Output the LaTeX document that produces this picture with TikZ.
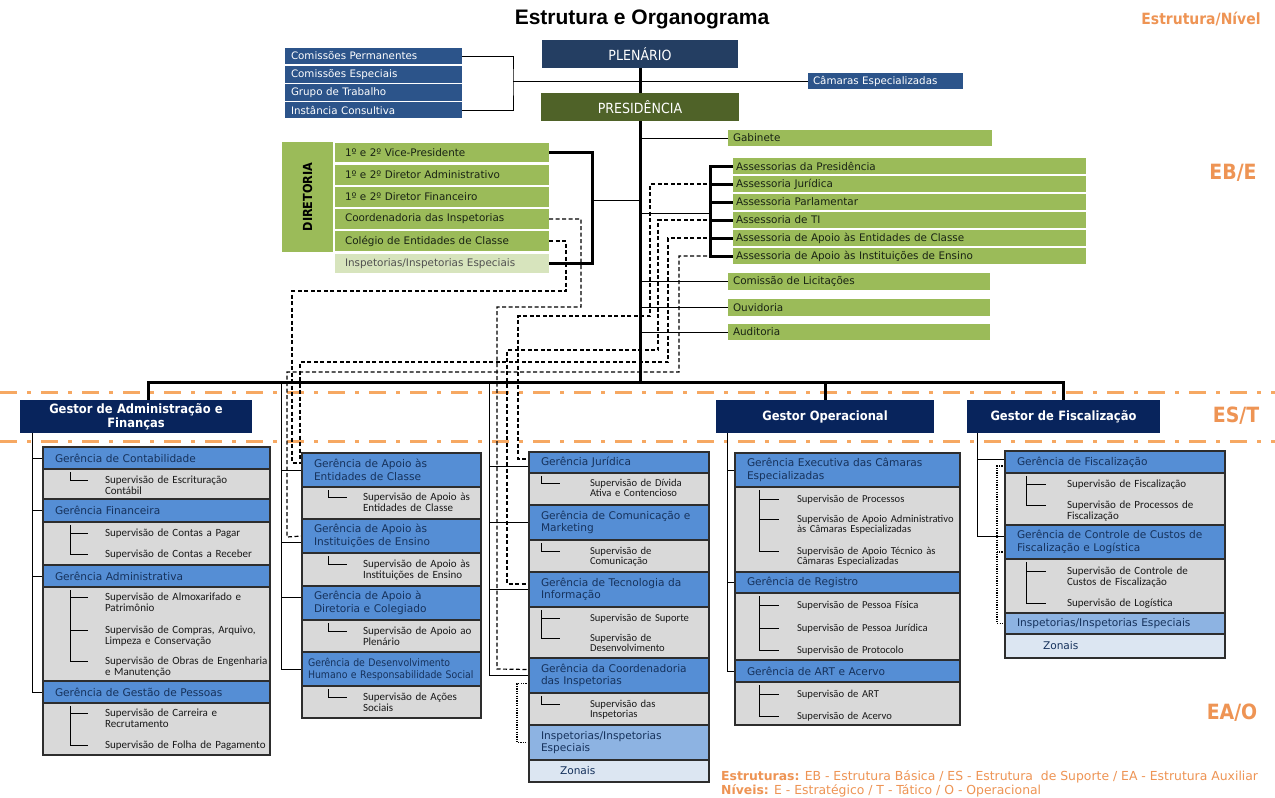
\documentclass[tikz,border=0pt]{standalone}
\usepackage{fontspec}
\setmainfont{DejaVu Sans}
\newfontfamily\cond[FakeStretch=0.9]{DejaVu Sans}
\newfontfamily\subf{Carlito}
\newfontfamily\ttlf{Liberation Sans}
\pgfdeclarelayer{bg}
\pgfsetlayers{bg,main}

\definecolor{plenc}{RGB}{36,62,98}
\definecolor{presc}{RGB}{79,98,40}
\definecolor{stackc}{RGB}{44,84,138}
\definecolor{grnc}{RGB}{155,187,89}
\definecolor{grnlc}{RGB}{215,228,189}
\definecolor{grnltxt}{RGB}{80,80,80}
\definecolor{gestc}{RGB}{8,36,92}
\definecolor{hdrc}{RGB}{85,142,213}
\definecolor{hdrlc}{RGB}{141,179,226}
\definecolor{zonc}{RGB}{220,230,242}
\definecolor{secc}{RGB}{217,217,217}
\definecolor{bordc}{RGB}{45,45,45}
\definecolor{hdrtxt}{RGB}{22,50,92}
\definecolor{subtxt}{RGB}{25,25,25}
\definecolor{grntxt}{RGB}{25,35,20}
\definecolor{orgc}{RGB}{238,148,84}
\definecolor{orgln}{RGB}{246,168,98}

% box from (x1,y1) to (x2,y2); optional side padding for the text
\newcommand\bx[8][12]{%
  \pgfmathsetmacro\bxcx{(#4+#6)/2}%
  \pgfmathsetmacro\bxcy{(#5+#7)/2}%
  \pgfmathsetmacro\bxw{#6-#4}%
  \pgfmathsetmacro\bxh{#7-#5}%
  \pgfmathsetmacro\bxtw{#6-#4-2*#1}%
  \node[#3, minimum width=\bxw pt, minimum height=\bxh pt, text width=\bxtw pt] (#2) at (\bxcx,\bxcy) {#8};}
% supervision item, placed by its first baseline
\newcommand\sitem[5][sub]{\node[#1] (#2) at (#3,#4) {#5};}
% elbow from a section's trunk to one of its items
\newcommand\twig[4]{\draw[tree] ([xshift=#2pt,yshift=-3pt]#1.north west) |- ([xshift=-#4pt,yshift=3.5pt]#3.base west);}

\begin{document}
\begin{tikzpicture}[x=1pt,y=-1pt,
  bxbase/.style={inner sep=0pt, outer sep=0pt, align=left},
  plen/.style={bxbase, fill=plenc, text=white, align=center, font=\cond\fontsize{14}{16}\selectfont},
  pres/.style={plen, fill=presc},
  stack/.style={bxbase, fill=stackc, text=white, font=\fontsize{10.3}{12}\selectfont},
  grn/.style={bxbase, fill=grnc, text=grntxt, font=\fontsize{10.4}{12}\selectfont},
  grnl/.style={grn, fill=grnlc, text=grnltxt},
  gest/.style={bxbase, fill=gestc, text=white, align=center, font=\cond\bfseries\fontsize{12.8}{14}\selectfont},
  hdr/.style={bxbase, fill=hdrc, draw=bordc, line width=1.1pt, text=hdrtxt, font=\fontsize{10.6}{12.5}\selectfont},
  hdrl/.style={hdr, fill=hdrlc},
  hdrz/.style={hdr, fill=zonc},
  sec/.style={bxbase, fill=secc, draw=bordc, line width=1.1pt},
  sub/.style={inner sep=0pt, outer sep=0pt, anchor=base west, align=left, text width=240pt, text=subtxt, font=\subf\fontsize{11}{10.5}\selectfont},
  subs/.style={sub, font=\subf\fontsize{10.6}{10.3}\selectfont},
  conn/.style={draw=black, line width=0.9pt},
  busln/.style={draw=black, line width=3pt},
  brk/.style={draw=black, line width=3pt},
  dsh/.style={draw=black, line width=1.2pt, dash pattern=on 4pt off 2.5pt},
  dotln/.style={draw=black, line width=1.1pt, dash pattern=on 1.2pt off 1.2pt},
  tree/.style={draw=black, line width=0.9pt},
  orgdash/.style={draw=orgln, line width=3pt, dash pattern=on 17pt off 10pt on 4pt off 10pt},
  lvl/.style={text=orgc, font=\cond\bfseries\fontsize{21}{24}\selectfont},
  leg/.style={text=orgc, inner sep=0pt, anchor=west, font=\fontsize{12.4}{14}\selectfont}
]
\useasboundingbox (0,0) rectangle (1275,798);
\begin{pgfonlayer}{bg}
  \fill[white] (0,0) rectangle (1275,798);
\end{pgfonlayer}

% ---------- titles and level labels ----------
\node[font=\ttlf\bfseries\fontsize{21}{24}\selectfont] (title) at (642,19) {Estrutura e Organograma};
\node[text=orgc, font=\cond\bfseries\fontsize{15.5}{17}\selectfont] (nivel) at (1201,19) {Estrutura/Nível};
\node[lvl] (lEB) at (1233,173) {EB/E};
\node[lvl] (lES) at (1236,416) {ES/T};
\node[lvl] (lEA) at (1232,713) {EA/O};
\node[leg] (leg1) at (721,777) {\textbf{Estruturas:} EB - Estrutura Básica / ES - Estrutura\ \ de Suporte / EA - Estrutura Auxiliar};
\node[leg] (leg2) at (721,791) {\textbf{Níveis:} E - Estratégico / T - Tático / O - Operacional};

% ---------- top level ----------
\bx{plen}{plen}{542}{40}{738}{68}{PLENÁRIO}
\bx{pres}{pres}{541}{93}{739}{121}{PRESIDÊNCIA}
\bx[6]{cp}{stack}{285}{48}{462}{64}{Comissões Permanentes}
\bx[6]{ce}{stack}{285}{66}{462}{83}{Comissões Especiais}
\bx[6]{gt}{stack}{285}{84}{462}{101}{Grupo de Trabalho}
\bx[6]{ic}{stack}{285}{102}{462}{118}{Instância Consultiva}
\bx[5]{cam}{stack}{808}{73}{963}{89}{Câmaras Especializadas}

\bx[5]{gab}{grn}{728}{130}{992}{146}{Gabinete}
\bx{dir}{grn}{282}{142}{333}{252}{}
\node[rotate=90, text=black, font=\cond\bfseries\fontsize{12.5}{14}\selectfont] (dirt) at (dir) {DIRETORIA};
\bx[10]{vp}{grn}{335}{143}{549}{162}{1º e 2º Vice-Presidente}
\bx[10]{da}{grn}{335}{165}{549}{185}{1º e 2º Diretor Administrativo}
\bx[10]{df}{grn}{335}{187}{549}{207}{1º e 2º Diretor Financeiro}
\bx[10]{coord}{grn}{335}{209}{549}{229}{Coordenadoria das Inspetorias}
\bx[10]{colg}{grn}{335}{231}{549}{251}{Colégio de Entidades de Classe}
\bx[10]{insp}{grnl}{335}{254}{549}{273}{Inspetorias/Inspetorias Especiais}

\bx[3]{asPres}{grn}{733}{158}{1086}{174}{Assessorias da Presidência}
\bx[3]{asJur}{grn}{733}{176}{1086}{192}{Assessoria Jurídica}
\bx[3]{asPar}{grn}{733}{194}{1086}{210}{Assessoria Parlamentar}
\bx[3]{asTI}{grn}{733}{212}{1086}{228}{Assessoria de TI}
\bx[3]{asEnt}{grn}{733}{230}{1086}{246}{Assessoria de Apoio às Entidades de Classe}
\bx[3]{asIns}{grn}{733}{248}{1086}{264}{Assessoria de Apoio às Instituições de Ensino}
\bx[5]{lic}{grn}{728}{273}{990}{290}{Comissão de Licitações}
\bx[5]{ouv}{grn}{728}{299}{990}{316}{Ouvidoria}
\bx[5]{aud}{grn}{728}{324}{990}{340}{Auditoria}

% ---------- managers ----------
\bx{gAdm}{gest}{20}{400}{252}{433}{Gestor de Administração e\\Finanças}
\bx{gOp}{gest}{716}{400}{934}{433}{Gestor Operacional}
\bx{gFis}{gest}{967}{400}{1160}{433}{Gestor de Fiscalização}

% ---------- column 1 ----------
\bx{g1a}{hdr}{43}{447}{270}{469}{Gerência de Contabilidade}
\bx{s1a}{sec}{43}{469}{270}{499}{}
\bx{g1b}{hdr}{43}{499}{270}{522}{Gerência Financeira}
\bx{s1b}{sec}{43}{522}{270}{565}{}
\bx{g1c}{hdr}{43}{565}{270}{587}{Gerência Administrativa}
\bx{s1c}{sec}{43}{587}{270}{681}{}
\bx{g1d}{hdr}{43}{681}{270}{703}{Gerência de Gestão de Pessoas}
\bx{s1d}{sec}{43}{703}{270}{755}{}
\sitem{i1a1}{105}{483.5}{Supervisão de Escrituração\\Contábil}
\sitem{i1b1}{105}{536.5}{Supervisão de Contas a Pagar}
\sitem{i1b2}{105}{557.5}{Supervisão de Contas a Receber}
\sitem{i1c1}{105}{600.5}{Supervisão de Almoxarifado e\\Patrimônio}
\sitem{i1c2}{105}{633.5}{Supervisão de Compras, Arquivo,\\Limpeza e Conservação}
\sitem{i1c3}{105}{664.5}{Supervisão de Obras de Engenharia\\e Manutenção}
\sitem{i1d1}{105}{716.5}{Supervisão de Carreira e\\Recrutamento}
\sitem{i1d2}{105}{748.5}{Supervisão de Folha de Pagamento}
\twig{s1a}{27}{i1a1}{17}
\twig{s1b}{27}{i1b1}{17}\twig{s1b}{27}{i1b2}{17}
\twig{s1c}{27}{i1c1}{17}\twig{s1c}{27}{i1c2}{17}\twig{s1c}{27}{i1c3}{17}
\twig{s1d}{27}{i1d1}{17}\twig{s1d}{27}{i1d2}{17}

% ---------- column 2 ----------
\bx{g2a}{hdr}{302}{453}{481}{487}{Gerência de Apoio às\\Entidades de Classe}
\bx{s2a}{sec}{302}{487}{481}{519}{}
\bx{g2b}{hdr}{302}{519}{481}{553}{Gerência de Apoio às\\Instituições de Ensino}
\bx{s2b}{sec}{302}{553}{481}{586}{}
\bx{g2c}{hdr}{302}{586}{481}{620}{Gerência de Apoio à\\Diretoria e Colegiado}
\bx{s2c}{sec}{302}{620}{481}{652}{}
\bx[6]{g2d}{hdr, font=\cond\fontsize{10.4}{12}\selectfont}{302}{652}{481}{686}{Gerência de Desenvolvimento\\Humano e Responsabilidade Social}
\bx{s2d}{sec}{302}{686}{481}{718}{}
\sitem{i2a}{363}{500.5}{Supervisão de Apoio às\\Entidades de Classe}
\sitem{i2b}{363}{567.5}{Supervisão de Apoio às\\Instituições de Ensino}
\sitem{i2c}{363}{634.5}{Supervisão de Apoio ao\\Plenário}
\sitem{i2d}{363}{700.5}{Supervisão de Ações\\Sociais}
\twig{s2a}{26}{i2a}{16}\twig{s2b}{26}{i2b}{16}
\twig{s2c}{26}{i2c}{16}\twig{s2d}{26}{i2d}{16}

% ---------- column 3 ----------
\bx{g3a}{hdr}{529}{452}{709}{473}{Gerência Jurídica}
\bx{s3a}{sec}{529}{473}{709}{505}{}
\bx{g3b}{hdr}{529}{505}{709}{540}{Gerência de Comunicação e\\Marketing}
\bx{s3b}{sec}{529}{540}{709}{572}{}
\bx{g3c}{hdr}{529}{572}{709}{607}{Gerência de Tecnologia da\\Informação}
\bx{s3c}{sec}{529}{607}{709}{658}{}
\bx{g3d}{hdr}{529}{658}{709}{693}{Gerência da Coordenadoria\\das Inspetorias}
\bx{s3d}{sec}{529}{693}{709}{725}{}
\bx{g3e}{hdrl}{529}{725}{709}{760}{Inspetorias/Inspetorias\\Especiais}
\bx{g3f}{hdrz}{529}{760}{709}{782}{\hspace*{19pt}Zonais}
\sitem[subs]{i3a}{590}{486.5}{Supervisão de Dívida\\Ativa e Contencioso}
\sitem[subs]{i3b}{590}{554.5}{Supervisão de\\Comunicação}
\sitem[subs]{i3c1}{590}{621.5}{Supervisão de Suporte}
\sitem[subs]{i3c2}{590}{641.5}{Supervisão de\\Desenvolvimento}
\sitem[subs]{i3d}{590}{707.5}{Supervisão das\\Inspetorias}
\twig{s3a}{12}{i3a}{30}\twig{s3b}{12}{i3b}{30}
\twig{s3c}{12}{i3c1}{30}\twig{s3c}{12}{i3c2}{30}
\twig{s3d}{12}{i3d}{30}

% ---------- column 4 ----------
\bx{g4a}{hdr}{735}{453}{960}{487}{Gerência Executiva das Câmaras\\Especializadas}
\bx{s4a}{sec}{735}{487}{960}{572}{}
\bx{g4b}{hdr}{735}{572}{960}{593}{Gerência de Registro}
\bx{s4b}{sec}{735}{593}{960}{660}{}
\bx{g4c}{hdr}{735}{660}{960}{682}{Gerência de ART e Acervo}
\bx{s4c}{sec}{735}{682}{960}{725}{}
\sitem[subs]{i4a1}{797}{502.5}{Supervisão de Processos}
\sitem[subs]{i4a2}{797}{522.5}{Supervisão de Apoio Administrativo\\às Câmaras Especializadas}
\sitem[subs]{i4a3}{797}{554.5}{Supervisão de Apoio Técnico às\\Câmaras Especializadas}
\sitem[subs]{i4b1}{797}{608.5}{Supervisão de Pessoa Física}
\sitem[subs]{i4b2}{797}{631.5}{Supervisão de Pessoa Jurídica}
\sitem[subs]{i4b3}{797}{653.5}{Supervisão de Protocolo}
\sitem[subs]{i4c1}{797}{697.5}{Supervisão de ART}
\sitem[subs]{i4c2}{797}{719.5}{Supervisão de Acervo}
\twig{s4a}{24}{i4a1}{18}\twig{s4a}{24}{i4a2}{18}\twig{s4a}{24}{i4a3}{18}
\twig{s4b}{24}{i4b1}{18}\twig{s4b}{24}{i4b2}{18}\twig{s4b}{24}{i4b3}{18}
\twig{s4c}{24}{i4c1}{18}\twig{s4c}{24}{i4c2}{18}

% ---------- column 5 ----------
\bx{g5a}{hdr}{1005}{451}{1225}{473}{Gerência de Fiscalização}
\bx{s5a}{sec}{1005}{473}{1225}{525}{}
\bx{g5b}{hdr}{1005}{525}{1225}{559}{Gerência de Controle de Custos de\\Fiscalização e Logística}
\bx{s5b}{sec}{1005}{559}{1225}{613}{}
\bx{g5c}{hdrl}{1005}{613}{1225}{634}{Inspetorias/Inspetorias Especiais}
\bx{g5d}{hdrz}{1005}{634}{1225}{658}{\hspace*{26pt}Zonais}
\sitem{i5a1}{1067}{487.5}{Supervisão de Fiscalização}
\sitem{i5a2}{1067}{508.5}{Supervisão de Processos de\\Fiscalização}
\sitem{i5b1}{1067}{574.5}{Supervisão de Controle de\\Custos de Fiscalização}
\sitem{i5b2}{1067}{606.5}{Supervisão de Logística}
\twig{s5a}{21}{i5a1}{21}\twig{s5a}{21}{i5a2}{21}
\twig{s5b}{21}{i5b1}{21}\twig{s5b}{21}{i5b2}{21}

% ---------- connectors ----------
\begin{pgfonlayer}{bg}
  % level separators
  \draw[orgdash] (0,392) -- (1275,392);
  \draw[orgdash] (0,441) -- (1275,441);

  % links from the board to the support units
  \draw[dsh] (colg.east) -| (566,291) -| (292,463) -- ([yshift=7pt]g2a.west);
  \draw[dsh] (coord.east) -| (581,307) -| (497,669) -- ([yshift=6pt]g3d.west);
  \draw[dsh] (asJur.west) -| (650,316) -| (518,459) -- ([yshift=3.5pt]g3a.west);
  \draw[dsh] (asTI.west) -| (658,350) -| (507,584) -- ([yshift=5.5pt]g3c.west);
  \draw[dsh] (asEnt.west) -| (668,362) -| (300,463) -- ([yshift=7pt]g2a.west);
  \draw[dsh] (asIns.west) -| (679,372) -| (287,537) -- (g2b.west);

  % inspectorates
  \draw[dotln] ([yshift=-8pt]g3d.west) -- ++(-12,0) |- (g3e.west);
  \draw[dotln] ([yshift=-4pt]g5a.west) -- ++(-8,0) |- (g5c.west);
  \draw[dotln] ([yshift=-10pt]g5b.west) -- ++(-8,0);

  % committees bracket
  \coordinate (lb) at (513,81);
  \draw[conn] (cp.east) -| (lb) |- (ic.east);
  \draw[conn] (lb) -- (cam.west);

  % units hanging from the presidency
  \draw[conn] (gab.west -| pres.south) -- (gab.west);
  \draw[conn] (lic.west -| pres.south) -- (lic.west);
  \draw[conn] (ouv.west -| pres.south) -- (ouv.west);
  \draw[conn] (aud.west -| pres.south) -- (aud.west);
  \coordinate (db) at (592,200);
  \draw[conn] (db) -- (db -| pres.south);
  \coordinate (ab) at (710,213);
  \draw[conn] (ab) -- (ab -| pres.south);

  % column links
  \coordinate (c2) at (281,382);
  \coordinate (c3) at (489,382);
  \foreach \g in {g1a,g1b,g1c,g1d}
    \draw[conn] ([xshift=12pt]gAdm.south west) |- (\g.west);
  \draw[conn] (c2) |- (g2a.west);
  \draw[conn] (c2) |- ([yshift=-6pt]g2b.west);
  \draw[conn] (c2) |- ([yshift=6pt]g2c.west);
  \draw[conn] (c2) |- (g2d.west);
  \draw[conn] (c3) |- ([yshift=-4pt]g3a.west);
  \draw[conn] (c3) |- (g3b.west);
  \draw[conn] (c3) |- (g3c.west);
  \draw[conn] (c3) |- (g3d.west);
  \foreach \g in {g4a,g4b,g4c}
    \draw[conn] ([xshift=11pt]gOp.south west) |- (\g.west);
  \draw[conn] ([xshift=10pt]gFis.south west) |- ([yshift=3pt]g5a.west);
  \draw[conn] ([xshift=10pt]gFis.south west) |- ([yshift=6pt]g5b.west);

  % main trunk and bus
  \coordinate (busC) at (640,382);
  \draw[busln] (plen.south) -- (pres.north);
  \draw[busln] (pres.south) -- (busC);
  \draw[busln] ([xshift=12pt]gAdm.north) |- (busC) -| (gFis.north);
  \draw[busln] (busC) -| (gOp.north);

  % thick brackets
  \draw[brk] (vp.east) -| (db) |- (insp.east);
  \draw[brk] (asPres.west) -| (ab) |- (asIns.west);
  \foreach \n in {asJur,asPar,asTI,asEnt}
    \draw[brk] (ab |- \n.west) -- (\n.west);
\end{pgfonlayer}
\end{tikzpicture}
\end{document}
